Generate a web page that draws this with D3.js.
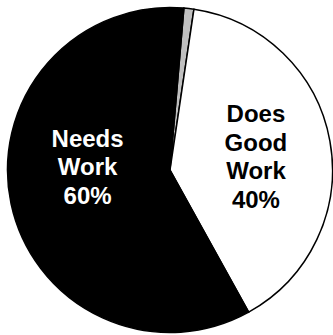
<!DOCTYPE html>
<html>
<head>
<meta charset="utf-8">
<script src="https://cdn.jsdelivr.net/npm/d3@7"></script>
<style>
  html, body { margin: 0; padding: 0; background: #fff; }
  svg { display: block; }
</style>
</head>
<body>
<svg id="chart" width="333" height="335"></svg>
<script>
// Slices in clockwise order, starting just right of twelve o'clock
const categories = ["Other", "Does Good Work", "Needs Work"];
const values = [1, 40, 60];
const labelLines = [[], ["Does", "Good", "Work", "40%"], ["Needs", "Work", "60%"]];
const fills = ["#c0c0c0", "#ffffff", "#000000"];
const textColors = ["#000000", "#000000", "#ffffff"];

const svg = d3.select("#chart");
const cx = 170, cy = 170, radius = 162.5;
const deg = Math.PI / 180;
const start = 4.9 * deg;

const data = categories.map((c, i) => ({ category: c, value: values[i], lines: labelLines[i], fill: fills[i], text: textColors[i] }));

const pie = d3.pie()
  .sort(null)
  .value(d => d.value)
  .startAngle(start)
  .endAngle(start + 2 * Math.PI);

const arc = d3.arc().innerRadius(0).outerRadius(radius);

const g = svg.append("g").attr("transform", `translate(${cx},${cy})`);
const arcs = pie(data);

g.selectAll("path.slice")
  .data(arcs)
  .join("path")
  .attr("class", "slice")
  .attr("d", arc)
  .attr("fill", d => d.data.fill)
  .attr("stroke", "#000")
  .attr("stroke-width", 1.5)
  .attr("stroke-linejoin", "miter");

// Labels sit near each slice's centroid, stacked line by line
const labelArc = d3.arc().innerRadius(0).outerRadius(radius * 1.05);
const lineHeight = 28.5;
const nudge = { "Needs Work": [1, -21], "Does Good Work": [2, 2] };

g.selectAll("text.label")
  .data(arcs.filter(d => d.data.lines.length))
  .join("text")
  .attr("class", "label")
  .attr("text-anchor", "middle")
  .attr("font-family", "'Liberation Sans', Arial, sans-serif")
  .attr("font-weight", "bold")
  .attr("font-size", 24)
  .attr("fill", d => d.data.text)
  .each(function(d) {
    const [x, y] = labelArc.centroid(d);
    const [nx, ny] = nudge[d.data.category] || [0, 0];
    const n = d.data.lines.length;
    const top = y + ny - (n - 1) * lineHeight / 2;
    d3.select(this).selectAll("tspan")
      .data(d.data.lines)
      .join("tspan")
      .attr("x", x + nx)
      .attr("y", (l, i) => top + i * lineHeight)
      .attr("dy", "0.35em")
      .text(l => l);
  });
</script>
</body>
</html>
